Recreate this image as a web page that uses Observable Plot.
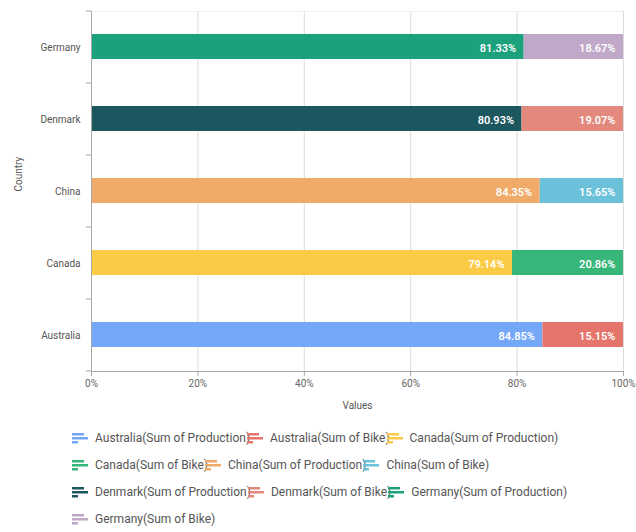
<!DOCTYPE html>
<html>
<head>
<meta charset="utf-8">
<script src="https://cdn.jsdelivr.net/npm/d3@7"></script>
<script src="https://cdn.jsdelivr.net/npm/@observablehq/plot@0.6"></script>
<style>
  html, body { margin: 0; padding: 0; background: #fff; }
  body { width: 636px; height: 532px; overflow: hidden; font-family: Roboto, sans-serif; }
  #legend { padding-left: 72px; padding-top: 1px; width: 560px; box-sizing: content-box; font-size: 12px; color: #555; line-height: 27px; }
  .item { display: inline-flex; align-items: center; white-space: nowrap; margin-right: -3px; vertical-align: top; }
  .item svg { margin-right: 7px; flex: none; }
</style>
</head>
<body>
<div id="chart"></div>
<div id="legend"></div>
<script>
const countries = ["Australia", "Canada", "China", "Denmark", "Germany"];
const production = [84.85, 79.14, 84.35, 80.93, 81.33];
const bike = [15.15, 20.86, 15.65, 19.07, 18.67];
const productionColors = ["#74a7f8", "#fbcb45", "#f0ab6a", "#1c565f", "#1ba27d"];
const bikeColors = ["#e5756a", "#37b67a", "#6cc1da", "#e2887c", "#c0a8c8"];
const xTicks = [0, 20, 40, 60, 80, 100];

const rows = [];
countries.forEach((c, i) => {
  rows.push({country: c, series: `${c}(Sum of Production)`, value: production[i], color: productionColors[i]});
  rows.push({country: c, series: `${c}(Sum of Bike)`, value: bike[i], color: bikeColors[i]});
});

const seriesNames = rows.map(d => d.series);
const seriesColors = rows.map(d => d.color);

const bandTicks = (index, scales, values, dimensions) => {
  const {height, marginTop, marginBottom, marginLeft} = dimensions;
  const n = scales.y.domain().length;
  const g = d3.create("svg:g");
  const ys = d3.range(n + 1).map(i => marginTop + (height - marginTop - marginBottom) * i / n);
  g.selectAll("line").data(ys).join("line")
    .attr("x1", marginLeft - 5).attr("x2", marginLeft)
    .attr("y1", d => d).attr("y2", d => d)
    .attr("stroke", "#a8a8a8");
  return g.node();
};

const frameLines = (index, scales, values, dimensions) => {
  const {width, height, marginTop, marginBottom, marginLeft, marginRight} = dimensions;
  const g = d3.create("svg:g");
  g.append("line")
    .attr("x1", marginLeft).attr("x2", width - marginRight)
    .attr("y1", marginTop + 0.5).attr("y2", marginTop + 0.5)
    .attr("stroke", "#f0f0f0");
  g.append("line")
    .attr("x1", marginLeft).attr("x2", width - marginRight)
    .attr("y1", height - marginBottom + 0.5).attr("y2", height - marginBottom + 0.5)
    .attr("stroke", "#a8a8a8");
  return g.node();
};

const chart = Plot.plot({
  width: 636,
  height: 424,
  marginTop: 11,
  marginBottom: 53,
  marginLeft: 91,
  marginRight: 13,
  style: {fontFamily: "Roboto, sans-serif", fontSize: "10px", color: "#666", background: "#fff"},
  x: {domain: [0, 100]},
  y: {domain: countries.slice().reverse(), paddingInner: 0.65, paddingOuter: 0.325},
  color: {domain: seriesNames, range: seriesColors},
  marks: [
    Plot.gridX(xTicks.slice(1), {stroke: "#dcdcdc", strokeOpacity: 1}),
    Plot.barX(rows, Plot.stackX({x: "value", y: "country", fill: "series"})),
    Plot.text(rows, Plot.stackX2({
      x: "value", y: "country",
      text: d => d.value.toFixed(2) + "%",
      textAnchor: "end", dx: -8, dy: 1, fill: "white", fontWeight: 600, fontSize: 11
    })),
    frameLines,
    Plot.ruleX([0], {stroke: "#a8a8a8"}),
    Plot.axisX({ticks: xTicks, tickFormat: d => d + "%", tickSize: 5, tickPadding: 3, stroke: "#a8a8a8", label: null, fill: "#666"}),
    Plot.axisY({tickSize: 0, tickPadding: 11, label: null, fill: "#555", dy: 1}),
    bandTicks,
    Plot.text(["Values"], {frameAnchor: "bottom", dy: 37, fill: "#555", fontSize: 10}),
    Plot.text(["Country"], {frameAnchor: "left", dx: -73, rotate: -90, fill: "#555", fontSize: 10})
  ]
});
document.getElementById("chart").appendChild(chart);

const legend = d3.select("#legend");
rows.forEach(d => {
  const item = legend.append("span").attr("class", "item");
  const svg = item.append("svg").attr("width", 16).attr("height", 11);
  [[0, 12], [4, 16], [8, 6]].forEach(([y, w]) => {
    svg.append("rect").attr("x", 0).attr("y", y).attr("width", w).attr("height", 2.5).attr("fill", d.color);
  });
  item.append("span").text(d.series);
});
</script>
</body>
</html>
